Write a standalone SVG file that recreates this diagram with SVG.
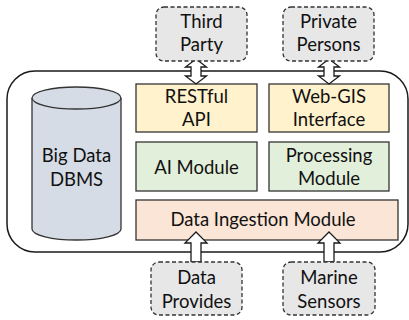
<svg xmlns="http://www.w3.org/2000/svg" width="409" height="320" viewBox="0 0 409 320">
<style>
  text { font-family: Lato, "Liberation Sans", sans-serif; font-size: 18.5px; fill: #111; text-anchor: middle; }
  .ext { fill: #e7e7e7; stroke: #333; stroke-width: 1.3; stroke-dasharray: 4 2.5; }
  .mod { stroke: #333; stroke-width: 1.3; }
  .arrow { fill: #fff; stroke: #1a1a1a; stroke-width: 1.3; stroke-linejoin: miter; }
</style>
<rect width="409" height="320" fill="#fff"/>
<g id="platform">
  <rect x="7" y="71" width="401" height="181" rx="28" ry="28" fill="#fff" stroke="#1a1a1a" stroke-width="1.5"/>
</g>
<g id="dbms">
  <path d="M32,98 V229 A44.5,11 0 0 0 121,229 V98" fill="#d6dce5" stroke="#333" stroke-width="1.3"/>
  <ellipse cx="76.5" cy="98" rx="44.5" ry="11" fill="#d6dce5" stroke="#333" stroke-width="1.3"/>
  <text x="76.5" y="162">Big Data</text>
  <text x="76.5" y="186">DBMS</text>
</g>
<g id="restful">
  <rect class="mod" x="136" y="84" width="121" height="48" fill="#fff2cc"/>
  <text x="196.5" y="103">RESTful</text>
  <text x="196.5" y="126">API</text>
</g>
<g id="webgis">
  <rect class="mod" x="269" y="84" width="120" height="48" fill="#fff2cc"/>
  <text x="329" y="103">Web-GIS</text>
  <text x="329" y="126">Interface</text>
</g>
<g id="ai">
  <rect class="mod" x="136" y="142" width="121" height="49" fill="#e2efda"/>
  <text x="196.5" y="174">AI Module</text>
</g>
<g id="processing">
  <rect class="mod" x="269" y="142" width="120" height="49" fill="#e2efda"/>
  <text x="329" y="162">Processing</text>
  <text x="329" y="185">Module</text>
</g>
<g id="ingestion">
  <rect class="mod" x="136" y="200" width="262" height="40" fill="#fbe5d6"/>
  <text x="263" y="226">Data Ingestion Module</text>
</g>
<g id="connectors">
  <polygon class="arrow" points="196,59 206.5,67 201,67 201,76 206.5,76 196,84 185.5,76 191,76 191,67 185.5,67"/>
  <polygon class="arrow" points="329,59 339.5,67 334,67 334,76 339.5,76 329,84 318.5,76 324,76 324,67 318.5,67"/>
  <polygon class="arrow" points="196,232 207,243 201,243 201,262 191,262 191,243 185,243"/>
  <polygon class="arrow" points="329,232 340,243 334,243 334,262 324,262 324,243 318,243"/>
</g>
<g id="third-party">
  <rect class="ext" x="156" y="7" width="91" height="54" rx="8"/>
  <text x="201.5" y="28">Third</text>
  <text x="201.5" y="51">Party</text>
</g>
<g id="private-persons">
  <rect class="ext" x="283" y="7" width="91" height="54" rx="8"/>
  <text x="328.5" y="28">Private</text>
  <text x="328.5" y="51">Persons</text>
</g>
<g id="data-provides">
  <rect class="ext" x="151" y="262" width="91" height="53" rx="8"/>
  <text x="196.5" y="284">Data</text>
  <text x="196.5" y="308">Provides</text>
</g>
<g id="marine-sensors">
  <rect class="ext" x="283" y="262" width="92" height="53" rx="8"/>
  <text x="329" y="284">Marine</text>
  <text x="329" y="308">Sensors</text>
</g>
</svg>
